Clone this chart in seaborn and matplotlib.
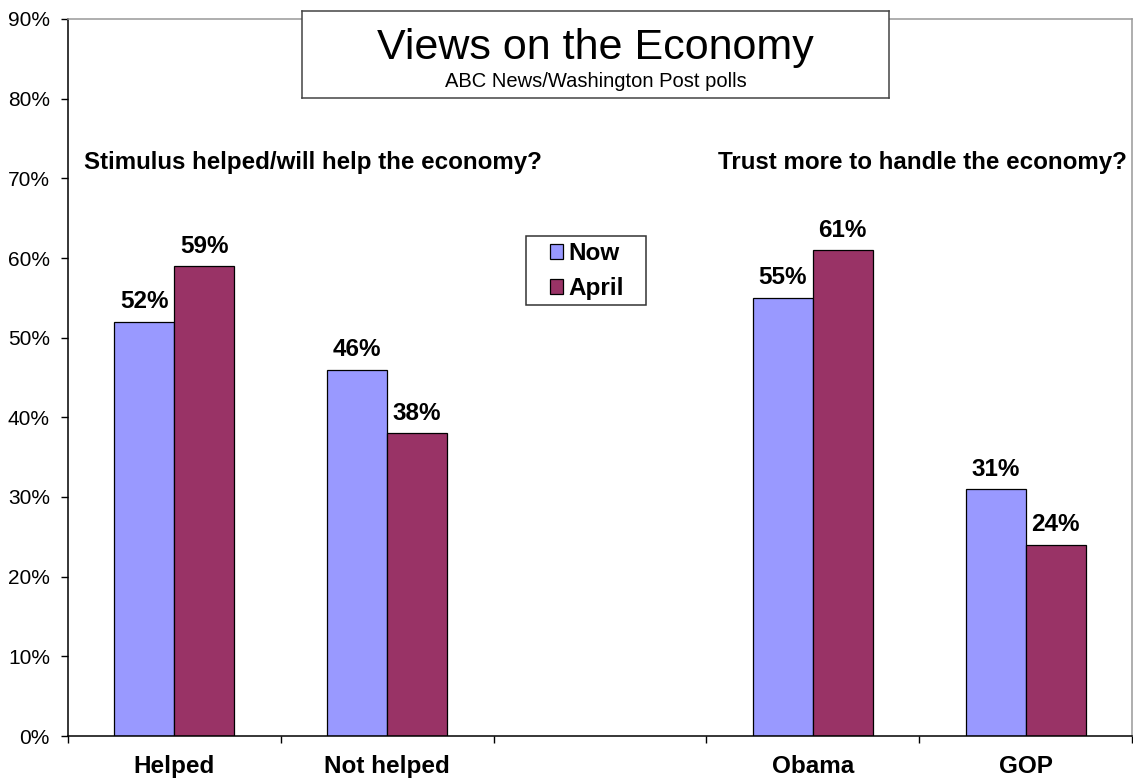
import numpy as np
import pandas as pd
import matplotlib
matplotlib.use('Agg')
import matplotlib.pyplot as plt
from matplotlib.patches import Rectangle
import seaborn as sns

# data
categories = ['Helped', 'Not helped', 'Obama', 'GOP']
slots = ['Helped', 'Not helped', '', 'Obama', 'GOP']  # blank slot between the two questions
now = [52, 46, 55, 31]
april = [59, 38, 61, 24]
series = ['Now', 'April']
colors = ['#9999FF', '#993366']

df = pd.DataFrame({
    'category': categories * 2,
    'value': now + april,
    'series': ['Now'] * len(now) + ['April'] * len(april),
})

sns.set_style('white')
plt.rcParams['font.family'] = ['Liberation Sans', 'DejaVu Sans']
plt.rcParams['text.color'] = 'black'
plt.rcParams['xtick.color'] = 'black'
plt.rcParams['ytick.color'] = 'black'
plt.rcParams['axes.labelcolor'] = 'black'

W, H = 1133, 782
fig = plt.figure(figsize=(W / 100, H / 100), dpi=100)
ax = fig.add_axes([68 / W, 1 - 736 / H, (1132 - 68) / W, (736 - 19) / H])

sns.barplot(data=df, x='category', y='value', hue='series', order=slots,
            hue_order=series, palette=colors, width=0.563,
            edgecolor='black', linewidth=0.9, saturation=1, ax=ax)

for cont in ax.containers:
    labels = [f'{v:.0f}%' if np.isfinite(v) else '' for v in cont.datavalues]
    ax.bar_label(cont, labels=labels, padding=6, fontsize=17.5, fontweight='bold')

ax.set_ylim(0, 90)
ax.set_xlim(-0.5, len(slots) - 0.5)
ax.set_yticks(np.arange(0, 91, 10))
ax.set_yticklabels([f'{v}%' for v in range(0, 91, 10)], fontsize=15)
ax.set_xticks(range(len(slots)))
ax.set_xticklabels(slots, fontsize=17.5, fontweight='bold')
ax.set_xticks(np.arange(-0.5, len(slots), 1), minor=True)
ax.tick_params(axis='x', which='major', length=0, pad=14)
ax.tick_params(axis='x', which='minor', length=5, width=1, direction='out',
               color='black', bottom=True)
ax.tick_params(axis='y', length=5, width=1, direction='out', color='black', pad=8, left=True)
ax.set(xlabel=None, ylabel=None)

for side in ['left', 'bottom']:
    ax.spines[side].set_color('black')
    ax.spines[side].set_linewidth(1.1)
for side in ['top', 'right']:
    ax.spines[side].set_visible(True)
    ax.spines[side].set_color('#999999')
    ax.spines[side].set_linewidth(1.1)

# legend without its own frame, boxed by a rectangle like the reference
sns.move_legend(ax, 'upper left', bbox_to_anchor=(550 / W, 1 - 242 / H),
                bbox_transform=fig.transFigure, title=None, frameon=False,
                prop={'size': 17.5, 'weight': 'bold'}, handlelength=0.55,
                handleheight=0.55, handletextpad=0.2, borderpad=0,
                labelspacing=0.5, borderaxespad=0)
ax.get_legend().set_zorder(6)
ax.add_patch(Rectangle((526 / W, 1 - 305 / H), 120 / W, 69 / H,
                       transform=fig.transFigure, facecolor='white',
                       edgecolor='#333333', linewidth=1.1, clip_on=False, zorder=5))

# question headings
fig.text(84 / W, 1 - 162 / H, 'Stimulus helped/will help the economy?',
         fontsize=17.4, fontweight='bold', va='center', ha='left')
fig.text(718 / W, 1 - 162 / H, 'Trust more to handle the economy?',
         fontsize=17.4, fontweight='bold', va='center', ha='left')

# boxed title
tax = fig.add_axes([302 / W, 1 - 98 / H, (889 - 302) / W, (98 - 11) / H])
tax.set_xticks([])
tax.set_yticks([])
tax.set_facecolor('white')
for s in tax.spines.values():
    s.set_visible(True)
    s.set_color('#444444')
    s.set_linewidth(1.1)
tax.text(0.5, 0.45, 'Views on the Economy', fontsize=31, ha='center', va='baseline')
tax.text(0.5, 0.13, 'ABC News/Washington Post polls', fontsize=14.5, ha='center', va='baseline')

plt.savefig('out.png', dpi=100)
plt.close()
